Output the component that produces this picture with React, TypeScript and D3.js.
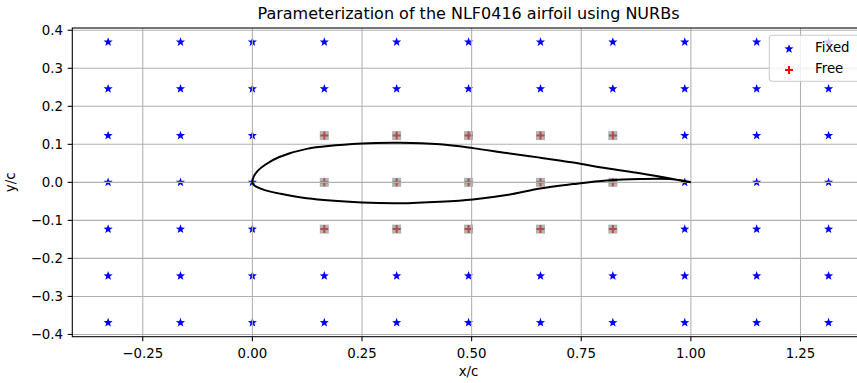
import React, { useEffect, useRef } from "react";
import * as d3 from "d3";

// control net of the NURBS (fixed points)
const ctrlX = [-0.329, -0.164, 0, 0.164, 0.329, 0.493, 0.657, 0.822, 0.986, 1.15, 1.314];
const ctrlY = [-0.369, -0.246, -0.123, 0, 0.123, 0.246, 0.369];

// free control points
const freeX = [0.164, 0.329, 0.493, 0.657, 0.822];
const freeY = [-0.123, 0, 0.123];

// airfoil surface
const upperX = [1.0, 0.959, 0.884, 0.808, 0.732, 0.656, 0.58, 0.503, 0.428, 0.337, 0.25, 0.124, 0.06, 0.03, 0.012, 0.003, 0];
const upperY = [0, 0.009, 0.024, 0.037, 0.052, 0.065, 0.077, 0.09, 0.1, 0.104, 0.102, 0.088, 0.066, 0.047, 0.03, 0.015, 0];
const lowerX = [0.003, 0.012, 0.03, 0.06, 0.124, 0.25, 0.337, 0.428, 0.503, 0.58, 0.656, 0.732, 0.808, 0.884, 0.959, 1.0];
const lowerY = [-0.0066, -0.013, -0.021, -0.029, -0.042, -0.053, -0.055, -0.051, -0.045, -0.0335, -0.016, -0.0045, 0.005, 0.0087, 0.008, 0];

const xTicks = [-0.25, 0, 0.25, 0.5, 0.75, 1.0, 1.25];
const yTicks = [-0.4, -0.3, -0.2, -0.1, 0, 0.1, 0.2, 0.3, 0.4];

const starPath = (r: number) => {
  const pts: [number, number][] = [];
  for (let i = 0; i < 10; i++) {
    const rr = i % 2 === 0 ? r : r * 0.42;
    const a = -Math.PI / 2 + (i * Math.PI) / 5;
    pts.push([rr * Math.cos(a), rr * Math.sin(a)]);
  }
  return "M" + pts.map((p) => p.join(",")).join("L") + "Z";
};

export default function App() {
  const ref = useRef<SVGSVGElement>(null);

  useEffect(() => {
    const W = 857, H = 383;
    const left = 72.3, right = 864.7, top = 28, bottom = 336.7;
    const svg = d3.select(ref.current);
    svg.selectAll("*").remove();
    const font = "DejaVu Sans, sans-serif";

    const x = d3.scaleLinear().domain([-0.4107, 1.3964]).range([left, right]);
    const y = d3.scaleLinear().domain([-0.4059, 0.4059]).range([bottom, top]);

    svg.append("rect").attr("width", W).attr("height", H).attr("fill", "white");

    svg.append("defs").append("clipPath").attr("id", "plot")
      .append("rect").attr("x", left).attr("y", top)
      .attr("width", right - left).attr("height", bottom - top);

    const plot = svg.append("g").attr("clip-path", "url(#plot)");

    // fixed points (stars)
    const fixed: [number, number][] = [];
    ctrlX.forEach((cx) => ctrlY.forEach((cy) => {
      const isFree = freeX.includes(cx) && freeY.includes(cy);
      if (!isFree) fixed.push([cx, cy]);
    }));
    const star = starPath(4.8);
    plot.append("g").selectAll("path").data(fixed).enter().append("path")
      .attr("d", star)
      .attr("transform", (d) => `translate(${x(d[0])},${y(d[1])})`)
      .attr("fill", "#0000ff");

    // free points: red plus with grey square on top
    const free: [number, number][] = [];
    freeX.forEach((cx) => freeY.forEach((cy) => free.push([cx, cy])));
    const fg = plot.append("g");
    free.forEach((d) => {
      const g = fg.append("g").attr("transform", `translate(${x(d[0])},${y(d[1])})`);
      g.append("path").attr("d", "M-4,0H4M0,-4V4")
        .attr("stroke", "#ff0000").attr("stroke-width", 2);
      g.append("rect").attr("x", -4.5).attr("y", -4.5).attr("width", 9).attr("height", 9)
        .attr("fill", "gray").attr("opacity", 0.6);
    });

    // grid (above scatter, below line)
    const grid = plot.append("g").attr("stroke", "#b0b0b0").attr("stroke-width", 1.07);
    xTicks.forEach((t) => grid.append("line")
      .attr("x1", x(t)).attr("x2", x(t)).attr("y1", top).attr("y2", bottom));
    yTicks.forEach((t) => grid.append("line")
      .attr("x1", left).attr("x2", right).attr("y1", y(t)).attr("y2", y(t)));

    // airfoil
    const contour: [number, number][] = [
      ...upperX.map((v, i) => [v, upperY[i]] as [number, number]),
      ...lowerX.map((v, i) => [v, lowerY[i]] as [number, number]),
    ];
    const line = d3.line<[number, number]>()
      .x((d) => x(d[0])).y((d) => y(d[1]))
      .curve(d3.curveCatmullRom.alpha(0.5));
    plot.append("path").datum(contour).attr("d", line)
      .attr("fill", "none").attr("stroke", "black").attr("stroke-width", 2);

    // spines
    const sp = svg.append("g").attr("stroke", "black").attr("stroke-width", 1.07).attr("fill", "none");
    sp.append("rect").attr("x", left).attr("y", top).attr("width", right - left).attr("height", bottom - top);

    // axes ticks
    const fmtX = d3.format(".2f");
    const fmtY = d3.format(".1f");
    const ax = svg.append("g").attr("font-family", font).attr("font-size", 13.33).attr("fill", "#000");
    xTicks.forEach((t) => {
      ax.append("line").attr("x1", x(t)).attr("x2", x(t)).attr("y1", bottom).attr("y2", bottom + 4.67)
        .attr("stroke", "black").attr("stroke-width", 1.07);
      ax.append("text").attr("x", x(t)).attr("y", bottom + 21.5).attr("text-anchor", "middle")
        .text(fmtX(t).replace("-", "\u2212"));
    });
    yTicks.forEach((t) => {
      ax.append("line").attr("x1", left - 4.67).attr("x2", left).attr("y1", y(t)).attr("y2", y(t))
        .attr("stroke", "black").attr("stroke-width", 1.07);
      ax.append("text").attr("x", left - 9.3).attr("y", y(t)).attr("dy", "0.36em").attr("text-anchor", "end")
        .text(fmtY(t).replace("-", "\u2212"));
    });

    // labels
    ax.append("text").attr("x", (left + right) / 2).attr("y", 376).attr("text-anchor", "middle").text("x/c");
    ax.append("text").attr("transform", `translate(15,${(top + bottom) / 2}) rotate(-90)`)
      .attr("text-anchor", "middle").text("y/c");
    svg.append("text").attr("x", (left + right) / 2).attr("y", 18.5).attr("text-anchor", "middle")
      .attr("font-family", font).attr("font-size", 16).text("Parameterization of the NLF0416 airfoil using NURBs");

    // legend
    const lg = svg.append("g");
    lg.append("rect").attr("x", 769.3).attr("y", 35.3).attr("width", 120).attr("height", 46)
      .attr("rx", 3).attr("fill", "white").attr("fill-opacity", 0.8)
      .attr("stroke", "#cccccc").attr("stroke-width", 1.07);
    lg.append("path").attr("d", star).attr("transform", "translate(789,49)").attr("fill", "#0000ff");
    lg.append("path").attr("d", "M-4,0H4M0,-4V4").attr("transform", "translate(789,70)")
      .attr("stroke", "#ff0000").attr("stroke-width", 2);
    lg.append("text").attr("x", 815).attr("y", 47.5).attr("dy", "0.36em")
      .attr("font-family", font).attr("font-size", 13.33).text("Fixed");
    lg.append("text").attr("x", 815).attr("y", 68.5).attr("dy", "0.36em")
      .attr("font-family", font).attr("font-size", 13.33).text("Free");
  }, []);

  return (
    <svg ref={ref} width={857} height={383}
      style={{ position: "absolute", left: 0, top: 0, display: "block" }} />
  );
}
